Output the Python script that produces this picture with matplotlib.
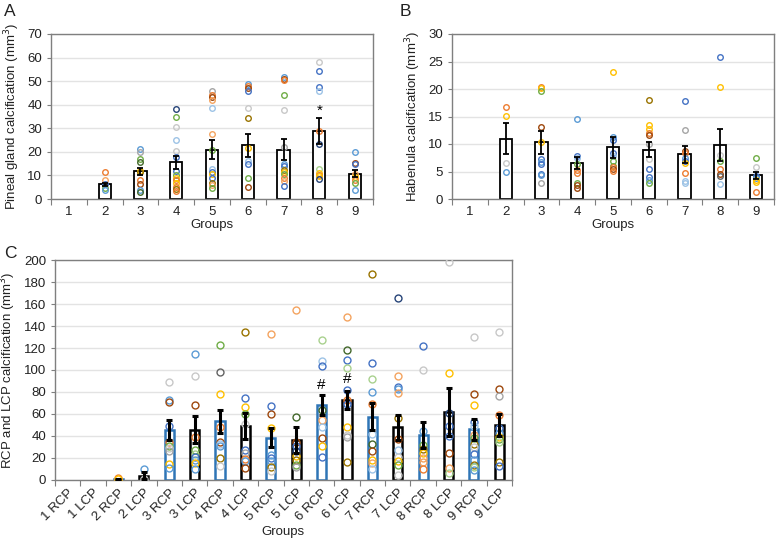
import numpy as np
import matplotlib
matplotlib.use("Agg")
import matplotlib.pyplot as plt
from matplotlib.transforms import ScaledTranslation

plt.rcParams["font.family"] = ["Liberation Sans", "DejaVu Sans"]

# ── colour keys (Excel-like palette) ─────────────────────────
PAL = {
    "b": "#4472C4", "o": "#ED7D31", "g": "#A5A5A5", "y": "#FFC000",
    "lb": "#5B9BD5", "gr": "#70AD47", "db": "#264478", "br": "#9E480E",
    "dg": "#636363", "dy": "#997300", "lg": "#C8C8C8", "lo": "#F4A460",
    "lbb": "#9DC3E6", "lgr": "#A9D18E", "dgr": "#43682B",
}

# ── Panel A: pineal gland ────────────────────────────────────
groups_ab = ["1", "2", "3", "4", "5", "6", "7", "8", "9"]
mean_a = [np.nan, 6.3, 11.8, 15.5, 21.0, 22.7, 21.0, 28.8, 10.8]
sem_a = [np.nan, 0.6, 1.5, 2.7, 4.2, 4.8, 4.6, 5.4, 1.5]
pts_a = [
    [],
    [11.4, 8.0, 6.2, 4.5, 3.8],
    [21.4, 20.0, 16.8, 15.5, 11.8, 11.5, 8.0, 6.4, 3.7, 3.0],
    [38.0, 35.0, 30.7, 25.0, 20.2, 18.0, 12.0, 10.2, 9.0, 8.0, 6.8, 5.0, 4.2, 3.6],
    [46.0, 44.0, 43.3, 42.0, 38.8, 27.5, 21.0, 12.8, 11.5, 10.8, 9.0, 7.0, 6.0, 4.8],
    [48.8, 48.0, 47.3, 45.8, 38.8, 34.2, 21.8, 16.0, 15.0, 9.0, 5.2],
    [51.8, 51.0, 50.3, 44.3, 37.8, 22.0, 15.0, 14.2, 12.2, 11.5, 10.8, 8.8, 7.8, 5.5],
    [58.0, 54.5, 47.5, 45.8, 29.0, 23.2, 12.8, 11.0, 10.3, 9.8, 8.5],
    [20.0, 15.3, 15.0, 10.5, 9.2, 8.0, 7.0, 3.8],
]
col_a = [
    [],
    ["o", "lo", "b", "gr", "lb"],
    ["lb", "g", "gr", "dgr", "y", "dy", "o", "br", "lb", "dgr"],
    ["db", "gr", "lg", "lbb", "lg", "b", "b", "gr", "y", "o", "y", "o", "dy", "o"],
    ["g", "o", "br", "lo", "lbb", "lo", "gr", "lbb", "b", "y", "b", "dy", "lo", "gr"],
    ["lb", "o", "br", "b", "lg", "dy", "y", "lbb", "b", "gr", "br"],
    ["lb", "br", "o", "gr", "lg", "g", "lb", "b", "dy", "y", "gr", "o", "lo", "b"],
    ["lg", "b", "b", "lbb", "o", "db", "lgr", "y", "o", "y", "db"],
    ["lb", "br", "b", "lo", "y", "o", "gr", "lb"],
]

# ── Panel B: habenula ────────────────────────────────────────
mean_b = [np.nan, 11.0, 10.3, 6.5, 9.4, 9.0, 8.1, 9.8, 4.3]
sem_b = [np.nan, 2.9, 2.1, 1.1, 1.9, 1.4, 1.5, 2.9, 0.7]
pts_b = [
    [],
    [16.8, 15.1, 6.5, 5.0],
    [20.4, 20.1, 19.7, 13.1, 10.3, 7.2, 6.8, 6.3, 4.5, 4.3, 2.9],
    [14.5, 7.9, 7.5, 6.3, 5.3, 4.8, 3.0, 2.5, 2.0],
    [23.1, 11.2, 10.8, 8.3, 7.8, 7.0, 6.0, 5.8, 5.5, 5.1],
    [18.0, 13.4, 12.8, 12.0, 11.6, 10.0, 7.3, 5.5, 4.0, 3.5, 3.0],
    [17.9, 12.6, 8.8, 8.3, 7.5, 7.0, 6.5, 4.8, 3.3, 2.9],
    [25.8, 20.4, 8.0, 7.0, 5.5, 4.5, 4.2, 2.8],
    [7.4, 5.8, 4.2, 3.9, 3.5, 3.1, 1.2],
]
col_b = [
    [],
    ["o", "y", "lg", "lb"],
    ["o", "y", "gr", "br", "y", "b", "lb", "b", "b", "lb", "g"],
    ["lb", "b", "lbb", "gr", "o", "o", "gr", "br", "br"],
    ["y", "lb", "b", "b", "lbb", "gr", "gr", "o", "br", "o"],
    ["dy", "y", "y", "o", "br", "g", "lg", "b", "b", "lb", "gr"],
    ["b", "g", "br", "o", "lb", "b", "y", "o", "lbb", "lbb"],
    ["b", "y", "lg", "gr", "o", "br", "dg", "lbb"],
    ["gr", "lg", "b", "lb", "y", "y", "o"],
]

# ── Panel C: RCP / LCP ───────────────────────────────────────
groups_c = [f"{g} {s}" for g in range(1, 10) for s in ("RCP", "LCP")]
mean_c = [np.nan, np.nan, 0.6, 4.0, 45.3, 45.8, 53.5, 49.0, 38.5,
          36.4, 68.0, 72.7, 57.6, 47.8, 40.9, 61.5, 46.0, 50.0]
sem_c = [np.nan, np.nan, 0.5, 3.3, 9.0, 12.2, 10.5, 11.5, 8.5,
         11.5, 9.0, 8.0, 12.1, 11.7, 11.9, 21.8, 9.5, 9.7]
pts_c = [
    [], [],
    [1.5, 0.8],
    [10.3, 0.5],
    [89.5, 73.0, 71.2, 49.5, 35.0, 31.0, 29.5, 26.5, 15.0, 11.0],
    [114.5, 94.8, 68.5, 39.0, 27.0, 24.0, 20.5, 18.5, 15.5, 10.0],
    [122.8, 98.5, 78.2, 48.0, 35.0, 33.0, 30.5, 20.0, 13.0],
    [134.3, 74.3, 66.3, 60.3, 51.0, 27.2, 25.0, 18.8, 17.0, 11.0],
    [133.0, 67.3, 60.3, 47.0, 22.5, 20.0, 17.0, 12.0, 8.0],
    [154.8, 57.5, 34.5, 30.5, 26.5, 21.5, 18.5, 13.5, 12.0],
    [127.6, 108.0, 104.0, 64.0, 55.0, 48.5, 38.0, 30.5, 21.0],
    [148.5, 118.3, 108.8, 101.5, 82.0, 72.3, 69.5, 48.5, 41.0, 39.5, 16.0],
    [187.0, 106.0, 92.0, 80.0, 69.5, 42.0, 33.0, 26.0, 18.5, 15.5, 10.0],
    [165.5, 95.0, 85.0, 83.0, 79.0, 56.5, 37.0, 27.5, 20.5, 17.0, 13.5, 5.0],
    [122.0, 100.3, 44.5, 32.0, 28.5, 25.0, 20.0, 16.5, 10.0],
    [198.0, 97.5, 60.5, 49.5, 40.3, 25.0, 10.5, 6.0],
    [129.7, 78.0, 68.5, 53.0, 49.5, 41.0, 38.0, 33.0, 30.0, 24.0, 18.5, 13.5, 11.5, 9.5],
    [134.8, 82.5, 76.7, 59.0, 47.0, 43.0, 39.5, 37.5, 35.0, 16.5, 13.0],
]
col_c = [
    [], [],
    ["o", "y"],
    ["lb", "lg"],
    ["lg", "lb", "br", "b", "o", "gr", "lg", "g", "y", "lb"],
    ["lb", "lg", "br", "o", "gr", "lgr", "b", "lb", "y", "lb"],
    ["gr", "dg", "y", "o", "br", "lbb", "lb", "dy", "lg"],
    ["dy", "b", "y", "gr", "lg", "b", "g", "o", "lb", "br"],
    ["lo", "b", "br", "y", "lb", "b", "lb", "dy", "lg"],
    ["lo", "dgr", "br", "b", "db", "y", "dy", "gr", "g"],
    ["lgr", "lbb", "b", "dgr", "lo", "lbb", "br", "y", "b"],
    ["lo", "dgr", "b", "lgr", "b", "o", "b", "y", "lg", "g", "dy"],
    ["dy", "b", "lgr", "lb", "o", "lbb", "dgr", "br", "y", "lo", "lbb"],
    ["db", "lo", "b", "lb", "lo", "dy", "br", "lbb", "lg", "y", "gr", "lg"],
    ["b", "lg", "lb", "gr", "dy", "y", "lo", "lo", "o"],
    ["lg", "y", "db", "b", "b", "br", "lo", "lgr"],
    ["lg", "br", "y", "b", "lbb", "lo", "gr", "dy", "lg", "b", "lb", "dy", "lgr", "lb"],
    ["lg", "br", "g", "o", "b", "lb", "y", "gr", "lgr", "dy", "b"],
]

W, H = 776, 541
SPINE = "#7F7F7F"
GRID = "#E3E3E3"
TXT = "#222222"
FS = 9.5


def draw_panel(ax, labels, means, sems, pts, cols, ymax, ystep,
               edgecols, bar_w, bar_lw, err_lw, ms, rot=0):
    x = np.arange(len(labels))
    ax.set_xlim(-0.5, len(labels) - 0.5)
    ax.set_ylim(0, ymax)
    ax.set_yticks(np.arange(0, ymax + 0.1, ystep))
    ax.yaxis.grid(True, color=GRID, lw=1)
    ax.set_axisbelow(True)
    for s in ax.spines.values():
        s.set_color(SPINE)
        s.set_linewidth(1.0)

    ax.bar(x, means, width=bar_w, color="white", edgecolor=edgecols,
           linewidth=bar_lw, zorder=2)
    for i in x:
        for v, c in zip(pts[i], cols[i]):
            ax.plot(i, v, ls="none", marker="o", ms=ms, mfc="none",
                    mec=PAL[c], mew=1.0, zorder=3)
    ax.errorbar(x, means, yerr=sems, fmt="none", ecolor="black",
                elinewidth=err_lw, capsize=2, capthick=err_lw, zorder=4)

    # ticks between categories, labels at centres
    ax.set_xticks(np.arange(-0.5, len(labels) + 0.5, 1.0))
    ax.set_xticklabels([])
    ax.set_xticks(x, minor=True)
    if rot:
        ax.set_xticklabels(labels, minor=True, rotation=rot,
                           ha="right", va="top", rotation_mode="anchor")
        shift = ScaledTranslation(11 / 100, -5 / 100, ax.figure.dpi_scale_trans)
        for lab in ax.get_xticklabels(minor=True):
            lab.set_transform(lab.get_transform() + shift)
    else:
        ax.set_xticklabels(labels, minor=True)
    ax.tick_params(axis="x", which="major", length=4, color=SPINE)
    ax.tick_params(axis="x", which="minor", length=0, labelsize=FS,
                   colors=TXT, pad=5)
    ax.tick_params(axis="y", length=3, color=SPINE, labelsize=FS,
                   colors=TXT)


fig = plt.figure(figsize=(W / 100, H / 100), dpi=100)

axA = fig.add_axes([51 / W, 1 - 199 / H, 322 / W, 165 / H])
draw_panel(axA, groups_ab, mean_a, sem_a, pts_a, col_a, 70, 10,
           "black", 0.34, 1.3, 1.3, 4.0)
axA.set_ylabel("Pineal gland calcification (mm$^3$)", fontsize=FS,
               color=TXT, labelpad=4)
axA.set_xlabel("Groups", fontsize=FS, color=TXT, labelpad=1)
axA.text(7, 37.5, "*", ha="center", va="center", fontsize=11)

axB = fig.add_axes([452 / W, 1 - 199 / H, 322 / W, 165 / H])
draw_panel(axB, groups_ab, mean_b, sem_b, pts_b, col_b, 30, 5,
           "black", 0.34, 1.3, 1.3, 4.0)
axB.set_ylabel("Habenula calcification (mm$^3$)", fontsize=FS,
               color=TXT, labelpad=4)
axB.set_xlabel("Groups", fontsize=FS, color=TXT, labelpad=1)

axC = fig.add_axes([55 / W, 1 - 480 / H, 457 / W, 220 / H])
edge_c = ["#2E75B6" if "RCP" in g else "black" for g in groups_c]
draw_panel(axC, groups_c, mean_c, sem_c, pts_c, col_c, 200, 20,
           edge_c, 0.36, 1.8, 2.2, 5.0, rot=45)
axC.set_ylabel("RCP and LCP calcification (mm$^3$)", fontsize=FS,
               color=TXT, labelpad=4)
fig.text(283 / W, 1 - 532 / H, "Groups", fontsize=FS, color=TXT,
         ha="center", va="center")
axC.text(10, 86, "#", ha="center", va="center", fontsize=11)
axC.text(11, 92, "#", ha="center", va="center", fontsize=11)

fig.text(4 / W, 1 - 12 / H, "A", fontsize=12.5, va="center", color=TXT)
fig.text(400 / W, 1 - 12 / H, "B", fontsize=12.5, va="center", color=TXT)
fig.text(4 / W, 1 - 254 / H, "C", fontsize=12.5, va="center", color=TXT)

fig.savefig("out.png", dpi=100)
